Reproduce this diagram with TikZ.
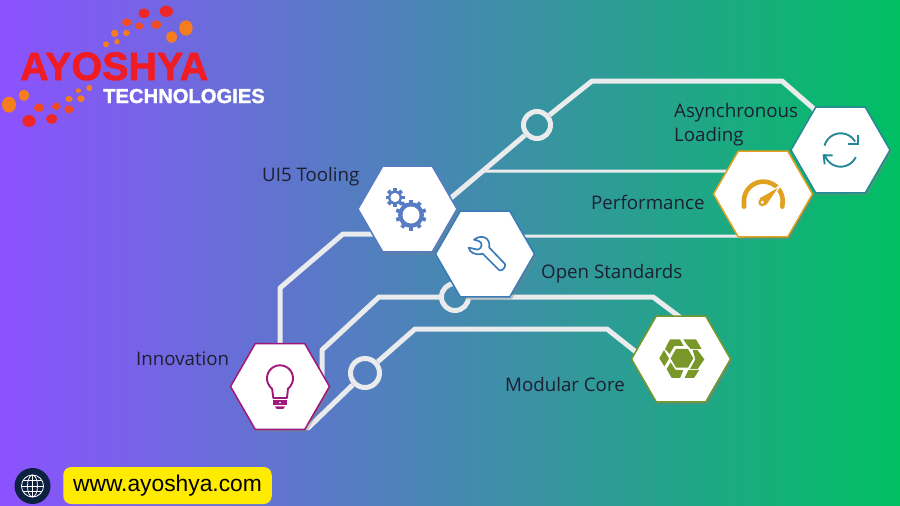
\documentclass[tikz,border=0pt]{standalone}
\usepackage{fontspec}
\setmainfont{Open Sans}
\newfontfamily\logofont{Liberation Sans}
\newfontfamily\logobold[BoldFont={Liberation Sans Bold},BoldFeatures={FakeBold=1.6}]{Liberation Sans}
\usetikzlibrary{shapes.geometric,shadows,backgrounds}
\definecolor{bgL}{RGB}{140,82,255}
\definecolor{bgR}{RGB}{0,191,99}
\definecolor{wirec}{RGB}{233,235,236}
\definecolor{ink}{RGB}{28,32,50}
\definecolor{cgear}{RGB}{88,124,196}
\definecolor{cwrench}{RGB}{58,124,184}
\definecolor{csync}{RGB}{38,136,150}
\definecolor{cgauge}{RGB}{224,160,32}
\definecolor{cbulb}{RGB}{160,24,124}
\definecolor{ccore}{RGB}{122,152,42}
\definecolor{dotR}{RGB}{238,40,40}
\definecolor{dotM}{RGB}{240,75,35}
\definecolor{dotO}{RGB}{245,125,30}
\definecolor{logoRed}{RGB}{240,28,36}
\definecolor{navy}{RGB}{13,34,64}
\definecolor{yel}{RGB}{255,235,0}
\tikzset{
  x=1pt,y=-1pt,
  hexa/.style={regular polygon,regular polygon sides=6,minimum size=99pt,inner sep=0pt,outer sep=0pt,fill=white,draw=#1,line width=1.5pt,
    drop shadow={shadow xshift=2pt,shadow yshift=-2.5pt,opacity=.4}},
  wire/.style={draw=wirec,line width=5pt,line join=round},
  thinwire/.style={draw=wirec,line width=3pt,line join=round},
  ringn/.style={circle,draw=wirec,line width=5pt,inner sep=0pt,minimum size=#1},
  lbl/.style={anchor=west,inner sep=0pt,text=ink,font=\fontsize{18.7}{24}\selectfont,align=left},
  zA/.style={shift={(340,80)},x=.3333pt,y=-.3333pt},
  zB/.style={shift={(680,70)},x=.3333pt,y=-.3333pt},
  zC/.style={shift={(220,280)},x=.3333pt,y=-.3333pt},
  zD/.style={shift={(620,300)},x=.3333pt,y=-.3333pt},
}
\newcommand\mygear[5]{% cx,cy,R,r,teeth
  \fill[cgear] (#1,#2) circle[radius=#3-2.6];
  \foreach \a in {1,...,#5}{
    \fill[cgear,shift={(#1,#2)},rotate=\a*360/#5] (-1.9,-#3) rectangle (1.9,-#3+4);
  }
  \fill[white] (#1,#2) circle[radius=#4];
}
\begin{document}
\begin{tikzpicture}
\useasboundingbox (0,0) rectangle (900,506);
% hexagons
\node[hexa=cgear] (ui5) at (407.5,209) {};
\node[hexa=cwrench] (wrench) at (485,254) {};
\node[hexa=csync] (async) at (840.5,150) {};
\node[hexa=cgauge] (perf) at (763,194) {};
\node[hexa=cbulb] (inno) at (280,386.5) {};
\node[hexa=ccore] (core) at (681,359) {};
% rings and wires
\begin{scope}[on background layer]
  \fill[left color=bgL,right color=bgR] (0,0) rectangle (900,506);
  \node[ringn=27pt] (ringA) at (537,125) {};
  \node[ringn=27pt] (ringB) at (455,297) {};
  \node[ringn=29pt] (ringC) at (365,373) {};
  \coordinate (split) at (483,171);
  \draw[wire] (ui5.center) -- (445,203) -- (ringA);
  \draw[wire] (ringA) -- (592,81) -- (782,81) -- (813,108) -- (async.center);
  \draw[thinwire] (split) -- (732,171) -- (perf.center);
  \draw[thinwire] (wrench.center) -- (510,236) -- (745,236) -- (perf.center);
  \draw[wire] (inno.center) -- (280,288) -- (343,234) -- (380,234) -- (ui5.center);
  \draw[wire] (inno.center) -- (322,380) -- (322,350) -- (379,297) -- (ringB);
  \draw[wire] (ringB) -- (653,297) -- (681,318) -- (core.center);
  \draw[wire] (inno.center) -- (308,428) -- (ringC);
  \draw[wire] (ringC) -- (415,329) -- (607,329) -- (636,352) -- (core.center);
\end{scope}
% labels
\node[lbl] (tUI) at (262,176.5) {UI5 Tooling};
\node[lbl] (tAs) at (674,125) {Asynchronous\\Loading};
\node[lbl] (tPe) at (591,202) {Performance};
\node[lbl] (tOp) at (541,273.5) {Open Standards};
\node[lbl] (tIn) at (136,359) {Innovation};
\node[lbl] (tMo) at (505,384) {Modular Core};
% gears
\mygear{411}{215}{15.5}{8.5}{10}
\mygear{395}{197.5}{9.5}{4.6}{8}
% wrench
\begin{scope}[zA]
  \draw[cwrench,line width=1.7pt,line join=round,fill=white]
    (402,479) .. controls (425,462) and (452,472) .. (448,503)
    -- (495,552) .. controls (498,560) and (488,574) .. (478,571)
    -- (428,521) .. controls (405,528) and (388,516) .. (386,503)
    -- (414,509) .. controls (428,505) and (428,486) .. (416,483) -- cycle;
\end{scope}
% sync
\begin{scope}[zB]
  \draw[csync,line width=1.9pt] plot[domain=165:30,samples=30] ({482+50*cos(\x)},{240-50*sin(\x)});
  \draw[csync,line width=1.9pt] plot[domain=-25:-165,samples=30] ({482+50*cos(\x)},{240-50*sin(\x)});
  \draw[csync,line width=1.9pt,line join=miter] (533,195) -- (533,222) -- (505,222);
  \draw[csync,line width=1.9pt,line join=miter] (458,256) -- (431,256) -- (434,283);
\end{scope}
% gauge
\begin{scope}[zB]
  \draw[cgauge,line width=4.6pt,line cap=round] (192,410) -- plot[domain=180:0,samples=40] ({250+58*cos(\x)},{393-58*sin(\x)}) -- (307,410);
  \fill[cgauge,draw=white,line width=1.2pt] (301,347) -- (236,384) -- (258,410) -- cycle;
  \fill[cgauge] (247,397) circle[radius=12];
  \fill[white] (247,397) circle[radius=5];
\end{scope}
% bulb
\begin{scope}[zC]
  \draw[cbulb,line width=1.9pt,line join=round] (160,354) -- (157,331)
    -- plot[domain=232:-52,samples=40] ({180+39*cos(\x)},{295-39*sin(\x)}) -- (201,354) -- cycle;
  \fill[cbulb] (160,360) rectangle (200,376);
  \fill[white] (180,368) circle[radius=3];
  \fill[cbulb] (165,379) -- (195,379) -- (190,387) -- (170,387) -- cycle;
\end{scope}
% modular core
\begin{scope}[zD]
  \fill[ccore] (152,175) -- (168,147) -- (204,147) -- (220,175) -- (204,203) -- (168,203) -- cycle;
  \fill[ccore] (135,147) -- (150,118) -- (180,118) -- (191,138) -- (163,138) -- (149,162) -- cycle;
  \fill[ccore] (190,118) -- (228,118) -- (245,147) -- (212,147) -- (200,133) -- cycle;
  \fill[ccore] (118,175) -- (132,150) -- (147,176) -- (133,199) -- cycle;
  \fill[ccore] (232,150) -- (253,178) -- (233,207) -- (210,207) -- (226,178) -- (218,150) -- cycle;
  \fill[ccore] (205,210) -- (238,210) -- (222,234) -- (194,234) -- cycle;
  \fill[ccore] (140,207) -- (152,187) -- (166,209) -- (190,211) -- (180,234) -- (155,234) -- cycle;
\end{scope}
% logo dots
\begin{scope}[shift={(0,0)},x=.3333pt,y=-.3333pt]
  \foreach \cx/\cy/\rx/\ry/\c in {
    432/40/17/15/dotR,499/34/20/17/dotR,380/67/14/12/dotM,418/78/12/11/dotM,469/74/15/13/dotM,
    558/84/20/23/dotO,515/111/16/18/dotO,344/100/11/11/dotO,379/99/10/9/dotO,318/133/9/9/dotO,351/125/8/8/dotO,
    72/286/16/17/dotO,27/314/21/24/dotO,117/323/15/13/dotM,169/319/13/11/dotM,207/328/14/12/dotM,
    207/297/11/9/dotO,243/296/11/10/dotO,235/272/8/7/dotO,268/264/9/9/dotO,155/357/17/15/dotR,87/363/20/18/dotR}{
    \fill[\c] (\cx,\cy) ellipse[x radius=\rx,y radius=\ry];
  }
\end{scope}
\node[anchor=base west,inner sep=0pt,text=logoRed,font=\logobold\bfseries\fontsize{39.5}{42}\selectfont] (logoA) at (20,80) {AYOSHYA};
\node[anchor=base west,inner sep=0pt,text=white,font=\logobold\bfseries\fontsize{20.2}{24}\selectfont] (logoB) at (103,103) {TECHNOLOGIES};
% footer
\node[circle,fill=navy,minimum size=36pt,inner sep=0pt] (globe) at (32.5,486) {};
\draw[white,line width=.8pt] (globe.center) circle[radius=11];
\draw[white,line width=.8pt] (globe.center) ellipse[x radius=5,y radius=11];
\draw[white,line width=.8pt] ([yshift=11pt]globe.center) -- ([yshift=-11pt]globe.center);
\draw[white,line width=.8pt] ([xshift=-11pt]globe.center) -- ([xshift=11pt]globe.center);
\draw[white,line width=.8pt] ([xshift=-9.5pt,yshift=5.5pt]globe.center) -- ([xshift=9.5pt,yshift=5.5pt]globe.center);
\draw[white,line width=.8pt] ([xshift=-9.5pt,yshift=-5.5pt]globe.center) -- ([xshift=9.5pt,yshift=-5.5pt]globe.center);
\node[fill=yel,rounded corners=8pt,minimum width=208.5pt,minimum height=37pt,inner sep=0pt,text=black,font=\logofont\fontsize{22.8}{26}\selectfont] (web) at (167.5,485.5) {www.ayoshya.com};
\end{tikzpicture}
\end{document}
